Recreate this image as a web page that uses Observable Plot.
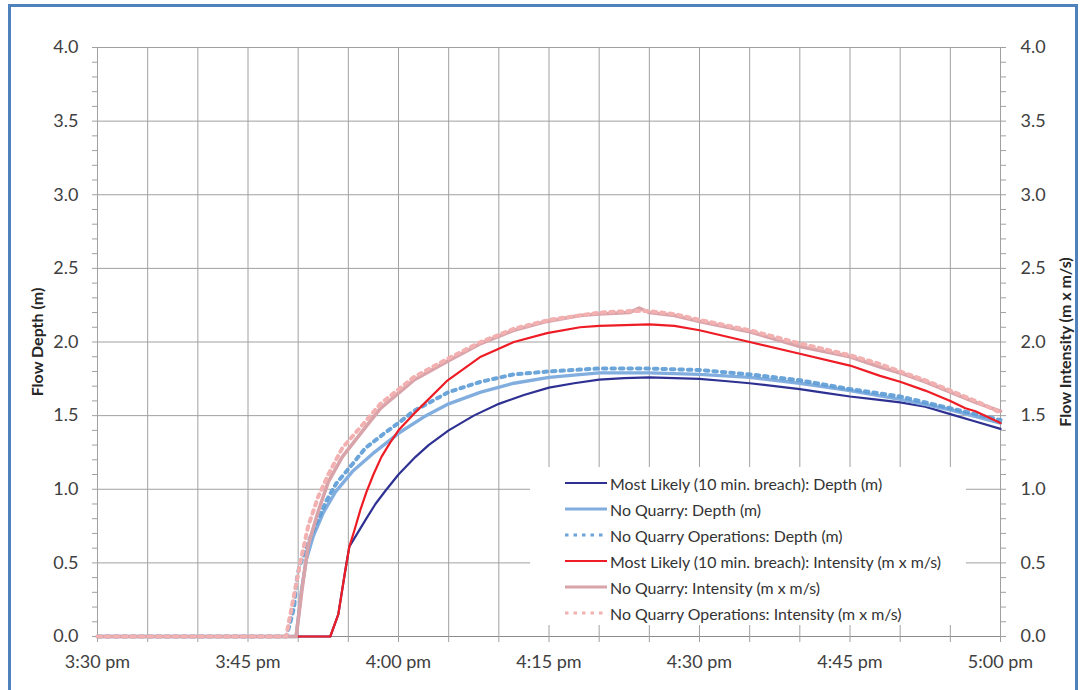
<!DOCTYPE html>
<html>
<head>
<meta charset="utf-8">
<script src="https://cdn.jsdelivr.net/npm/d3@7"></script>
<script src="https://cdn.jsdelivr.net/npm/@observablehq/plot@0.6"></script>
<style>
  html, body { margin: 0; padding: 0; background: #fff; }
  #wrap { position: relative; width: 1084px; height: 690px; overflow: hidden; font-family: Lato, "Open Sans", sans-serif; }
  #border { position: absolute; left: 8px; top: 4px; width: 1070px; height: 700px; border: 3px solid #4f81bd; box-sizing: border-box; pointer-events: none; }
  #legend { position: absolute; left: 530px; top: 467px; width: 436px; height: 158px; background: #fff; font-size: 15.9px; color: #333; }
  .row { position: absolute; left: 34px; height: 20px; display: flex; align-items: center; white-space: nowrap; }
  .row svg { width: 44px; height: 10px; margin-right: 2px; }
</style>
</head>
<body>
<div id="wrap">
  <div id="chart"></div>
  <div id="legend"></div>
  <div id="border"></div>
</div>
<script>
// ---- Data (time in minutes after 3:30 pm) ----
const xTickMinutes = [0, 15, 30, 45, 60, 75, 90];
const xTickLabels = ["3:30 pm", "3:45 pm", "4:00 pm", "4:15 pm", "4:30 pm", "4:45 pm", "5:00 pm"];
const yTicks = [0, 0.5, 1, 1.5, 2, 2.5, 3, 3.5, 4];

const seriesNames = [
  "Most Likely (10 min. breach): Depth (m)",
  "No Quarry: Depth (m)",
  "No Quarry Operations: Depth (m)",
  "Most Likely (10 min. breach): Intensity (m x m/s)",
  "No Quarry: Intensity (m x m/s)",
  "No Quarry Operations: Intensity (m x m/s)"
];

const mlDepthT = [0, 23.2, 24.0, 24.7, 25.1, 25.9, 26.7, 27.7, 28.7, 30, 31.7, 33, 35, 37.5, 40, 42.5, 45, 47.5, 50, 52.5, 55, 57.5, 60, 62.5, 65, 67.5, 70, 72.5, 75, 77.5, 80, 82.5, 85, 87.5, 90];
const mlDepthV = [0, 0, 0.15, 0.45, 0.61, 0.70, 0.79, 0.90, 0.99, 1.10, 1.22, 1.30, 1.40, 1.50, 1.58, 1.64, 1.69, 1.72, 1.745, 1.755, 1.76, 1.755, 1.75, 1.735, 1.72, 1.70, 1.68, 1.655, 1.63, 1.61, 1.59, 1.56, 1.51, 1.46, 1.41];

const nqDepthT = [0, 19.8, 20.3, 20.8, 21.5, 22.5, 23.7, 25.4, 27.4, 30, 32.5, 35, 38.2, 41.5, 45, 50, 55, 60, 65, 70, 75, 80, 85, 90];
const nqDepthV = [0, 0, 0.30, 0.52, 0.68, 0.84, 0.98, 1.12, 1.24, 1.38, 1.49, 1.58, 1.66, 1.72, 1.76, 1.79, 1.79, 1.78, 1.76, 1.72, 1.67, 1.61, 1.54, 1.45];

const nqoDepthT = [0, 18.8, 19.2, 19.6, 19.8, 20.1, 20.8, 21.5, 22.8, 23.8, 25.4, 26.7, 28.4, 30, 31.5, 35, 38.2, 41.5, 45, 50, 55, 60, 65, 70, 75, 80, 85, 90];
const nqoDepthV = [0, 0, 0.09, 0.20, 0.36, 0.47, 0.60, 0.72, 0.92, 1.04, 1.17, 1.28, 1.37, 1.45, 1.53, 1.66, 1.73, 1.78, 1.80, 1.82, 1.82, 1.81, 1.78, 1.74, 1.68, 1.63, 1.55, 1.47];

const mlIntT = [0, 23.2, 24.0, 24.7, 25.1, 25.6, 26.2, 26.8, 27.5, 28.3, 29.2, 30, 31.5, 34.9, 38.2, 41.5, 44.8, 48.1, 50, 55, 57.5, 60, 65, 70, 75, 78, 80, 82.5, 85, 86.5, 87.5, 90];
const mlIntV = [0, 0, 0.15, 0.45, 0.61, 0.72, 0.86, 0.98, 1.10, 1.22, 1.32, 1.40, 1.51, 1.74, 1.90, 2.00, 2.06, 2.10, 2.11, 2.12, 2.11, 2.08, 2.00, 1.92, 1.84, 1.77, 1.73, 1.67, 1.60, 1.55, 1.53, 1.45];

const nqIntT = [0, 19.8, 20.4, 21, 22, 23, 24.4, 26.7, 28.2, 31.5, 34.9, 38.2, 41.5, 44.8, 48.1, 50, 53, 54, 55, 57.5, 60, 65, 70, 75, 78, 80, 82.5, 85, 87.5, 90];
const nqIntV = [0, 0, 0.33, 0.62, 0.85, 1.05, 1.22, 1.42, 1.55, 1.74, 1.87, 1.99, 2.08, 2.14, 2.18, 2.19, 2.20, 2.23, 2.20, 2.18, 2.14, 2.07, 1.97, 1.90, 1.83, 1.79, 1.73, 1.66, 1.59, 1.53];

const nqoIntT = [0, 18.8, 19.5, 20.2, 21, 22, 23, 24.4, 26.7, 28.2, 31.5, 35, 38.2, 41.5, 45, 48, 50, 53, 55, 57.5, 60, 65, 70, 75, 78, 80, 82.5, 85, 87.5, 90];
const nqoIntV = [0, 0, 0.25, 0.50, 0.75, 0.95, 1.10, 1.28, 1.46, 1.58, 1.76, 1.89, 2.00, 2.09, 2.15, 2.18, 2.20, 2.21, 2.21, 2.19, 2.15, 2.08, 1.99, 1.91, 1.85, 1.80, 1.74, 1.67, 1.60, 1.52];

// ---- Styles ----
const styles = [
  {stroke: "#2e3192", strokeWidth: 2.2},
  {stroke: "#82aedf", strokeWidth: 3.4},
  {stroke: "#5b9bd5", strokeWidth: 4, strokeDasharray: "3.5 5", strokeOpacity: 0.9},
  {stroke: "#ee1c25", strokeWidth: 2.2},
  {stroke: "#d9a3aa", strokeWidth: 3.6},
  {stroke: "#f2b0b0", strokeWidth: 4, strokeDasharray: "3.5 5"}
];

const seriesT = [mlDepthT, nqDepthT, nqoDepthT, mlIntT, nqIntT, nqoIntT];
const seriesV = [mlDepthV, nqDepthV, nqoDepthV, mlIntV, nqIntV, nqoIntV];
const rows = seriesT.map((ts, i) => ts.map((t, j) => ({t, v: seriesV[i][j], s: seriesNames[i]})));

const gridColor = "#a0a0a0";
const fmtX = d => xTickLabels[xTickMinutes.indexOf(d)];

const chart = Plot.plot({
  width: 1084,
  height: 690,
  marginLeft: 97,
  marginRight: 84,
  marginTop: 47,
  marginBottom: 54,
  style: {fontFamily: "Lato, 'Open Sans', sans-serif", fontSize: "18px", color: "#404040", background: "transparent"},
  x: {domain: [0, 90]},
  y: {domain: [0, 4]},
  marks: [
    Plot.gridX(d3.range(0, 91, 5), {stroke: gridColor, strokeOpacity: 1}),
    Plot.gridY(yTicks, {stroke: gridColor, strokeOpacity: 1}),
    Plot.ruleY([0], {stroke: "#8c8c8c"}),
    Plot.axisX(d3.range(0, 91, 5), {tickSize: 6, tickFormat: () => "", stroke: gridColor, label: null}),
    Plot.axisX(xTickMinutes, {tickSize: 0, tickPadding: 19, tickFormat: fmtX, label: null, fill: "#404040"}),
    Plot.axisY(d3.range(0, 41).map(i => i / 10), {anchor: "left", tickSize: 5, tickFormat: () => "", stroke: gridColor, label: null}),
    Plot.axisY(d3.range(0, 41).map(i => i / 10), {anchor: "right", tickSize: 5, tickFormat: () => "", stroke: gridColor, label: null}),
    Plot.axisY(yTicks, {anchor: "left", tickSize: 0, tickPadding: 19, tickFormat: d3.format(".1f"), label: null, fill: "#404040"}),
    Plot.axisY(yTicks, {anchor: "right", tickSize: 0, tickPadding: 20, tickFormat: d3.format(".1f"), label: null, fill: "#404040"}),
    ...rows.map((r, i) => Plot.line(r, {x: "t", y: "v", ...styles[i], strokeLinejoin: "round"})),
    Plot.text(["Flow Depth (m)"], {frameAnchor: "left", dx: -60, rotate: -90, textAnchor: "middle", fontWeight: "bold", fontSize: 16, fill: "#262626"}),
    Plot.text(["Flow Intensity (m x m/s)"], {frameAnchor: "right", dx: 65, rotate: -90, textAnchor: "middle", fontWeight: "bold", fontSize: 16, fill: "#262626"})
  ]
});
document.getElementById("chart").appendChild(chart);

// ---- Legend ----
const legend = document.getElementById("legend");
seriesNames.forEach((name, i) => {
  const st = styles[i];
  const row = document.createElement("div");
  row.className = "row";
  row.style.top = (6 + i * 26) + "px";
  const dash = st.strokeDasharray ? `stroke-dasharray="${st.strokeDasharray}"` : "";
  row.innerHTML = `<svg viewBox="0 0 44 10"><line x1="1" y1="5" x2="43" y2="5" stroke="${st.stroke}" stroke-width="${Math.min(st.strokeWidth, 3)}" ${dash} stroke-opacity="${st.strokeOpacity || 1}"/></svg><span>${name}</span>`;
  legend.appendChild(row);
});
</script>
</body>
</html>
